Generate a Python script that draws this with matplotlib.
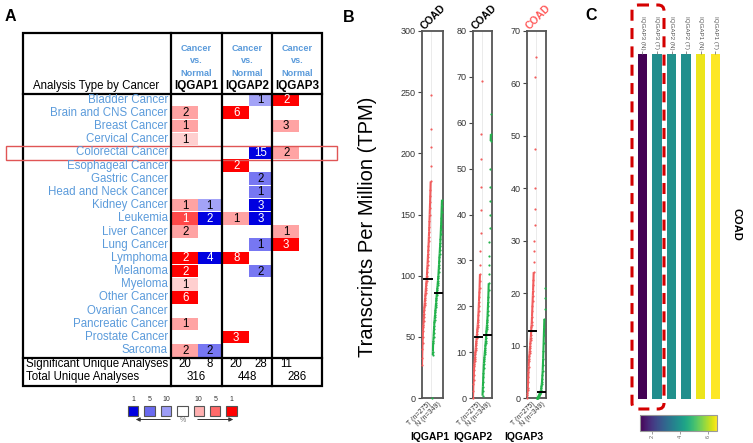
import numpy as np
import matplotlib
matplotlib.use("Agg")
import matplotlib.pyplot as plt
from matplotlib.patches import Rectangle, FancyBboxPatch
from matplotlib.collections import LineCollection
from matplotlib.colors import Normalize
from matplotlib.cm import ScalarMappable

plt.rcParams['font.family'] = ['Liberation Sans', 'DejaVu Sans']

W, H = 753, 443

# ---------------- panel A : Oncomine summary ----------------
cancer_types = ["Bladder Cancer", "Brain and CNS Cancer", "Breast Cancer", "Cervical Cancer",
                "Colorectal Cancer", "Esophageal Cancer", "Gastric Cancer", "Head and Neck Cancer",
                "Kidney Cancer", "Leukemia", "Liver Cancer", "Lung Cancer", "Lymphoma",
                "Melanoma", "Myeloma", "Other Cancer", "Ovarian Cancer", "Pancreatic Cancer",
                "Prostate Cancer", "Sarcoma"]
genes = ["IQGAP1", "IQGAP2", "IQGAP3"]

# number of analyses (0 = empty cell)
iqgap1_up   = [0, 2, 1, 1, 0, 0, 0, 0, 1, 1, 2, 0, 2, 2, 1, 6, 0, 1, 0, 2]
iqgap1_down = [0, 0, 0, 0, 0, 0, 0, 0, 1, 2, 0, 0, 4, 0, 0, 0, 0, 0, 0, 2]
iqgap2_up   = [0, 6, 0, 0, 0, 2, 0, 0, 0, 1, 0, 0, 8, 0, 0, 0, 0, 0, 3, 0]
iqgap2_down = [1, 0, 0, 0, 15, 0, 2, 1, 3, 3, 0, 1, 0, 2, 0, 0, 0, 0, 0, 0]
iqgap3_up   = [2, 0, 3, 0, 2, 0, 0, 0, 0, 0, 1, 3, 0, 0, 0, 0, 0, 0, 0, 0]
iqgap3_down = [0] * 20
# shade of each cell (1 = strongest ... 4 = palest)
iqgap1_up_shade   = [0, 3, 3, 4, 0, 0, 0, 0, 3, 2, 3, 0, 1, 1, 4, 1, 0, 3, 0, 3]
iqgap1_down_shade = [0, 0, 0, 0, 0, 0, 0, 0, 3, 1, 0, 0, 1, 0, 0, 0, 0, 0, 0, 2]
iqgap2_up_shade   = [0, 1, 0, 0, 0, 1, 0, 0, 0, 3, 0, 0, 1, 0, 0, 0, 0, 0, 1, 0]
iqgap2_down_shade = [3, 0, 0, 0, 1, 0, 2, 2, 1, 1, 0, 2, 0, 2, 0, 0, 0, 0, 0, 0]
iqgap3_up_shade   = [1, 0, 3, 0, 3, 0, 0, 0, 0, 0, 3, 1, 0, 0, 0, 0, 0, 0, 0, 0]
iqgap3_down_shade = [0] * 20

sig_up = [20, 20, 11]
sig_down = [8, 28, None]
total_analyses = [316, 448, 286]
legend_labels = ["1", "5", "10", "", "10", "5", "1"]

# ---------------- panel B : TPM in COAD ----------------
iqgap1_tumor = [27, 33, 40, 45, 50, 55, 58, 60, 63, 66, 69, 72, 74, 76, 78, 80, 82, 84, 86, 88,
                90, 92, 94, 96, 98, 100, 103, 106, 109, 112, 115, 118, 121, 124, 128, 132, 136,
                140, 145, 150, 155, 160, 165, 170, 177, 190, 205, 220, 248]
iqgap1_normal = [0, 35, 38, 45, 47, 50, 53, 56, 59, 62, 64, 66, 68, 70, 72, 74, 76, 78, 80, 82,
                 84, 86, 88, 90, 92, 94, 96, 98, 100, 103, 106, 109, 112, 115, 118, 121, 124,
                 127, 130, 134, 138, 142, 147, 152, 157, 162]
iqgap2_tumor = [0, 1.5, 3, 4, 5, 6, 7, 7.5, 8, 8.5, 9, 9.5, 10, 10.5, 11, 11.5, 12, 12.5, 13,
                13.4, 14, 14.5, 15, 15.5, 16, 16.5, 17, 18, 19, 20, 21, 22, 23, 24, 25.5, 27,
                29, 32, 36, 41, 46, 52, 57.5, 69]
iqgap2_normal = [0.5, 1.5, 2.5, 3.5, 4.5, 5.5, 6.5, 7.5, 8, 8.5, 9, 9.5, 10, 10.5, 11, 11.5,
                 12, 12.5, 13, 13.7, 14.5, 15, 15.5, 16, 16.5, 17, 18, 19, 20, 21, 22, 23.5,
                 25, 27, 29, 31, 34, 37, 40, 43, 46, 50, 56, 57.5, 62]
iqgap3_tumor = [0, 0.5, 1, 1.5, 2, 3, 4, 5, 6, 7, 7.5, 8, 8.5, 9, 9.5, 10, 10.5, 11, 11.5, 12,
                12.8, 13.5, 14, 14.5, 15.5, 16.5, 17.5, 18.5, 19.5, 20.5, 21.5, 22.5, 24, 26,
                28, 30, 33, 36, 40, 47.5, 61.3, 65]
iqgap3_normal = [0, 0, 0, 0, 0, 0, 0.1, 0.2, 0.3, 0.4, 0.5, 0.6, 0.7, 0.8, 0.9, 1.0, 1.1, 1.2,
                 1.4, 1.6, 1.9, 2.2, 2.6, 3.0, 3.6, 4.3, 5.2, 6.3, 7.5, 9, 10.5, 12, 13.5, 15,
                 17, 19, 21]
median_tumor = [97, 13.4, 12.8]
median_normal = [86, 13.7, 1.2]
tpm_ymax = [300, 80, 70]
tpm_step = [50, 10, 10]
group_labels = ["T (n=275)", "N (n=349)"]

# ---------------- panel C : median expression heat map ----------------
heat_labels = ["IQGAP3 (N)", "IQGAP3 (T)", "IQGAP2 (N)", "IQGAP2 (T)", "IQGAP1 (N)", "IQGAP1 (T)"]
heat_values = [1.14, 3.79, 3.88, 3.85, 6.44, 6.61]

RED = {1: '#FF0000', 2: '#FF4848', 3: '#FFA3A3', 4: '#FFCFCF'}
BLUE = {1: '#0000E0', 2: '#7777F2', 3: '#A3A3F7'}
LEG_COLORS = ['#0000E0', '#6A6AF0', '#9C9CF6', 'white', '#FFB0B0', '#FF6A6A', '#FF0000']
LINK = '#5B9BDB'

fig = plt.figure(figsize=(W / 100, H / 100), dpi=100)
ov = fig.add_axes([0, 0, 1, 1], zorder=0)
ov.set_xlim(0, W)
ov.set_ylim(H, 0)
ov.axis('off')


def px_axes(l, t, r, b, **kw):
    return fig.add_axes([l / W, 1 - b / H, (r - l) / W, (b - t) / H], **kw)


# ---- table A
tab_l, tab_r, tab_t, tab_b = 23, 322, 33, 386
col_x = [171, 222, 272]
head_y, sum_y = 94, 358
row0, row_h = 99.5, 13.2
fs = 8.3

ov.add_patch(Rectangle((tab_l, tab_t), tab_r - tab_l, tab_b - tab_t, fill=False, lw=1.6, ec='black'))
ov.plot([tab_l, tab_r], [head_y, head_y], color='black', lw=1.6)
ov.plot([tab_l, tab_r], [sum_y, sum_y], color='black', lw=1.6)
for cx in col_x:
    ov.plot([cx, cx], [tab_t, tab_b], color='black', lw=1.6)

ov.text(tab_l + 10, 86, "Analysis Type by Cancer", fontsize=fs, ha='left', va='center')
for g, cx in zip(genes, col_x):
    mid = cx + 25
    for k, word in enumerate(["Cancer", "vs.", "Normal"]):
        ov.text(mid, 48 + 12.5 * k, word, color=LINK, fontsize=6.6, fontweight='bold',
                ha='center', va='center')
    ov.text(mid, 86, g, fontsize=8.4, fontweight='bold', ha='center', va='center')

for i, name in enumerate(cancer_types):
    ov.text(168, row0 + i * row_h, name, color=LINK, fontsize=fs, ha='right', va='center')

cols = [(iqgap1_up, iqgap1_up_shade, iqgap1_down, iqgap1_down_shade),
        (iqgap2_up, iqgap2_up_shade, iqgap2_down, iqgap2_down_shade),
        (iqgap3_up, iqgap3_up_shade, iqgap3_down, iqgap3_down_shade)]
for cx, (up, ups, dn, dns) in zip(col_x, cols):
    for i in range(len(cancer_types)):
        yc = row0 + i * row_h
        for val, sh, x0, w, pal, red in ((up[i], ups[i], cx + 1, 26.5, RED, True),
                                         (dn[i], dns[i], cx + 27.5, 22.5, BLUE, False)):
            if not val:
                continue
            ov.add_patch(Rectangle((x0, yc - row_h / 2 + 0.3), w, row_h - 0.6,
                                   color=pal[sh], lw=0))
            white = sh == 1 or (red and sh == 2)
            ov.text(x0 + w / 2, yc + 0.5, str(val), fontsize=fs, ha='center', va='center',
                    color='white' if white else 'black')

ov.text(tab_l + 3, 364, "Significant Unique Analyses", fontsize=fs, ha='left', va='center')
ov.text(tab_l + 3, 377, "Total Unique Analyses", fontsize=fs, ha='left', va='center')
for cx, su, sd, tot in zip(col_x, sig_up, sig_down, total_analyses):
    ov.text(cx + 14, 364, str(su), fontsize=fs, ha='center', va='center')
    if sd is not None:
        ov.text(cx + 39, 364, str(sd), fontsize=fs, ha='center', va='center')
    ov.text(cx + 25.5, 377, str(tot), fontsize=fs, ha='center', va='center')

# colorectal highlight
ov.add_patch(Rectangle((6, 146), 331, 14, fill=False, ec='#E05555', lw=1.0))

# legend
for k, (c, lab) in enumerate(zip(LEG_COLORS, legend_labels)):
    x0 = 128 + k * 16.4
    ov.add_patch(Rectangle((x0, 406), 10.5, 9.5, fc=c, ec='#555555', lw=0.8))
    ov.text(x0 + 5.2, 399.5, lab, fontsize=5, ha='center', va='center', color='#333333')
ov.annotate('', xy=(133, 419.5), xytext=(173, 419.5),
            arrowprops=dict(arrowstyle='-|>', color='#333333', lw=0.7, mutation_scale=6))
ov.annotate('', xy=(236, 419.5), xytext=(195, 419.5),
            arrowprops=dict(arrowstyle='-|>', color='#333333', lw=0.7, mutation_scale=6))
ov.text(183, 420.5, "%", fontsize=5, ha='center', va='center', color='#777777')

# panel letters
for letter, x, y in (("A", 10.5, 16.5), ("B", 349, 17.5), ("C", 591, 15.5)):
    ov.text(x, y, letter, fontsize=11.5, fontweight='bold', ha='center', va='center')

# ---- panel B
T_COL, N_COL = '#F25C5C', '#22B24B'
b_spans = [(422, 443), (473, 492), (527, 546)]
tumors = [iqgap1_tumor, iqgap2_tumor, iqgap3_tumor]
normals = [iqgap1_normal, iqgap2_normal, iqgap3_normal]
gene_label_x = [430, 473, 524]
title_colors = ['black', 'black', '#FF5A5A']

for i, (l, r) in enumerate(b_spans):
    ax = px_axes(l, 31, r, 398, zorder=2)
    ymax = tpm_ymax[i]
    ax.set_xlim(0.5, 2.5)
    ax.set_ylim(0, ymax)
    ax.set_yticks(np.arange(0, ymax + 1, tpm_step[i]))
    ax.axvline(1.4, color='#E8E8E8', lw=0.6, zorder=0)
    for vals, pos, col in ((tumors[i], 1, T_COL), (normals[i], 2, N_COL)):
        v = np.sort(np.asarray(vals, dtype=float))
        n = len(v)
        x = pos - 0.5 + 0.9 * np.arange(n) / (n - 1)
        thr = 0.025 * ymax
        segs = [[(x[k], v[k]), (x[k + 1], v[k + 1])] for k in range(n - 1)
                if v[k + 1] - v[k] < thr]
        ax.add_collection(LineCollection(segs, colors=col, linewidths=1.5, zorder=3))
        ax.scatter(x, v, s=2.5, color=col, lw=0, zorder=3, clip_on=False)
    for pos, m in ((1, median_tumor[i]), (2, median_normal[i])):
        ax.plot([pos - 0.3, pos + 0.45], [m, m], color='black', lw=1.4, zorder=4)
    for s in ax.spines.values():
        s.set_color('#555555')
        s.set_linewidth(1.3)
    ax.tick_params(axis='y', labelsize=6.5, length=3, width=0.8, color='#444444',
                   labelcolor='#333333', pad=1.5)
    ax.set_xticks([1, 2])
    ax.set_xticklabels(group_labels, rotation=45, ha='right', va='top',
                       rotation_mode='anchor', fontsize=5)
    ax.tick_params(axis='x', length=0, pad=2, labelcolor='#333333')
    ax.text(2.5 / (r - l), 1.0 + 0.5 / 367, "COAD", transform=ax.transAxes, rotation=45,
            rotation_mode='anchor', ha='left', va='baseline', fontsize=7.5, fontweight='bold',
            color=title_colors[i])
    ov.text(gene_label_x[i], 437, genes[i], fontsize=7.5, fontweight='bold',
            ha='center', va='center')

ov.text(368, 227, "Transcripts Per Million (TPM)", fontsize=14.5, rotation=90,
        ha='center', va='center')

# ---- panel C
cmap = plt.get_cmap('viridis')
norm = Normalize(vmin=min(heat_values), vmax=max(heat_values))
hx = px_axes(635, 54.3, 722.6, 399.3, zorder=2)
pos = np.arange(len(heat_values))
hx.bar(pos, [1] * len(pos), width=0.64, color=cmap(norm(np.array(heat_values))))
hx.set_xlim(-0.5, len(pos) - 0.5)
hx.set_ylim(0, 1)
hx.set_yticks([])
for s in hx.spines.values():
    s.set_visible(False)
hx.xaxis.tick_top()
hx.set_xticks(pos)
hx.set_xticklabels(heat_labels, rotation=270, fontsize=4.5, color='#555555')
hx.tick_params(axis='x', length=2.5, width=0.6, color='#777777', pad=1)
hx.patch.set_alpha(0)

cax = px_axes(640, 415, 717, 431, zorder=2)
cb = fig.colorbar(ScalarMappable(norm=norm, cmap=cmap), cax=cax, orientation='horizontal')
cb.set_ticks([2, 4, 6])
cb.ax.tick_params(labelsize=4, length=2, width=0.5, color='#777777', labelcolor='#666666',
                  rotation=90, pad=1)
cb.outline.set_edgecolor('#999999')
cb.outline.set_linewidth(0.8)

ov.text(737, 224, "COAD", fontsize=8, fontweight='bold', rotation=270, ha='center', va='center')

ov.add_patch(FancyBboxPatch((632, 5), 32, 404, boxstyle='round,pad=0,rounding_size=6',
                            fill=False, ec='#D40000', lw=2.2, ls=(0, (3.6, 2.4)), zorder=5))

fig.savefig('out.png', dpi=100)
